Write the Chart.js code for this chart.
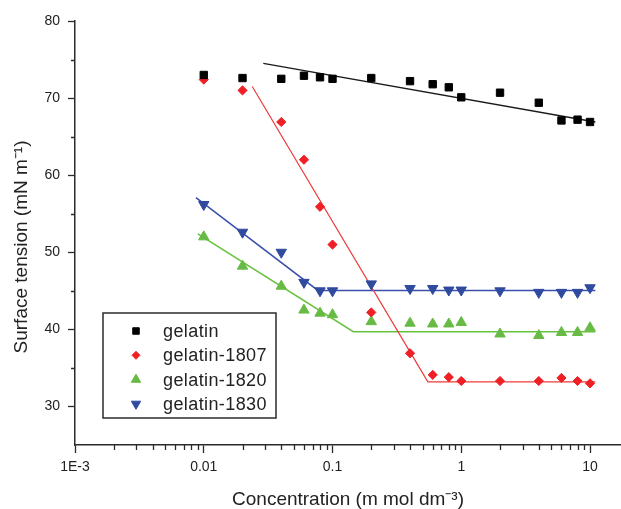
<!DOCTYPE html>
<html>
<head>
<meta charset="utf-8">
<script src="https://cdn.jsdelivr.net/npm/chart.js@4.4.1/dist/chart.umd.min.js"></script>
<style>
  html, body { margin: 0; padding: 0; background: #fff; }
  #wrap { width: 621px; height: 509px; }
</style>
</head>
<body>
<div id="wrap"><canvas id="chart" width="621" height="509"></canvas></div>
<script>
/* ---- data ---- */
const concentrations = [0.01, 0.02, 0.04, 0.06, 0.08, 0.1, 0.2, 0.4, 0.6, 0.8, 1, 2, 4, 6, 8, 10];
const gelatin     = [73.0, 72.6, 72.5, 72.9, 72.7, 72.5, 72.6, 72.2, 71.8, 71.4, 70.1, 70.7, 69.4, 67.1, 67.2, 66.9];
const gelatin1807 = [72.4, 71.0, 66.9, 62.0, 55.9, 51.0, 42.2, 36.9, 34.1, 33.8, 33.3, 33.3, 33.3, 33.7, 33.3, 33.0];
const gelatin1820 = [52.0, 48.2, 45.6, 42.5, 42.1, 41.9, 41.0, 40.8, 40.7, 40.7, 40.9, 39.4, 39.2, 39.6, 39.6, 40.2];
const gelatin1830 = [56.2, 52.6, 50.0, 46.1, 45.0, 45.0, 45.9, 45.3, 45.3, 45.1, 45.1, 45.0, 44.8, 44.8, 44.8, 45.4];

// fitted lines (x, y of the segment ends)
const fitGelatinX = [0.029, 11];        const fitGelatinY = [74.5, 66.9];
const fit1807X = [0.0238, 0.55, 11];    const fit1807Y = [71.5, 33.2, 33.2];
const fit1820X = [0.009, 0.145, 11];    const fit1820Y = [52.4, 39.7, 39.7];
const fit1830X = [0.0087, 0.077, 11];   const fit1830Y = [57.1, 45.05, 45.05];

const xTickValues = [0.001, 0.01, 0.1, 1, 10];
const xTickLabels = ['1E-3', '0.01', '0.1', '1', '10'];
const yTickValues = [30, 40, 50, 60, 70, 80];
const xMinorTicks = [2, 3, 4, 5, 6, 7, 8, 9];
const yMinorTicks = [35, 45, 55, 65, 75];

const FONT = 'Arial, "Liberation Sans", sans-serif';
const AXIS = '#2b2b2b';

const pts = (xs, ys) => xs.map((x, i) => ({ x, y: ys[i] }));

const series = [
  { label: 'gelatin', y: gelatin, style: 'rect', radius: 5.2, rot: 0, color: '#000000' },
  { label: 'gelatin-1807', y: gelatin1807, style: 'rectRot', radius: 4.6, rot: 0, color: '#ee1f25' },
  { label: 'gelatin-1820', y: gelatin1820, style: 'triangle', radius: 6, rot: 0, color: '#67bb45' },
  { label: 'gelatin-1830', y: gelatin1830, style: 'triangle', radius: 6, rot: 180, color: '#2f4a9e' },
];
const fits = [
  { x: fitGelatinX, y: fitGelatinY, color: '#1a1a1a', width: 1.3 },
  { x: fit1807X, y: fit1807Y, color: '#ee3a3a', width: 1.2 },
  { x: fit1820X, y: fit1820Y, color: '#66c23d', width: 1.5 },
  { x: fit1830X, y: fit1830Y, color: '#3a4fae', width: 1.5 },
];

const datasets = series.map((s) => ({
  label: s.label,
  data: pts(concentrations, s.y),
  showLine: false,
  pointStyle: s.style,
  pointRadius: s.radius,
  pointRotation: s.rot,
  backgroundColor: s.color,
  borderColor: s.color,
  borderWidth: 1,
})).concat(fits.map((f) => ({
  label: '',
  data: pts(f.x, f.y),
  showLine: true,
  pointRadius: 0,
  borderColor: f.color,
  borderWidth: f.width,
  fill: false,
})));

/* ---- minor ticks, y title and boxed legend ---- */
const extras = {
  id: 'extras',
  afterDraw(chart) {
    const ctx = chart.ctx;
    const xs = chart.scales.x, ys = chart.scales.y;
    const area = chart.chartArea;
    ctx.save();
    ctx.strokeStyle = AXIS;
    ctx.lineWidth = 1.3;
    ctx.beginPath();
    [0.001, 0.01, 0.1, 1].forEach((d) => xMinorTicks.forEach((k) => {
      const px = Math.round(xs.getPixelForValue(k * d)) + 0.5;
      ctx.moveTo(px, area.bottom);
      ctx.lineTo(px, area.bottom + 5);
    }));
    yMinorTicks.forEach((v) => {
      const py = Math.round(ys.getPixelForValue(v)) + 0.5;
      ctx.moveTo(area.left - 4, py);
      ctx.lineTo(area.left, py);
    });
    ctx.stroke();

    // y axis title
    ctx.fillStyle = '#222';
    ctx.font = '19px ' + FONT;
    ctx.textAlign = 'center';
    ctx.textBaseline = 'middle';
    ctx.translate(22, (area.top + area.bottom) / 2 + 14);
    ctx.rotate(-Math.PI / 2);
    ctx.fillText('Surface tension (mN m⁻¹)', 0, 0);
    ctx.restore();

    // legend box
    ctx.save();
    ctx.fillStyle = '#fff';
    ctx.fillRect(103, 313, 173, 105);
    ctx.strokeStyle = AXIS;
    ctx.lineWidth = 1.5;
    ctx.strokeRect(103, 313, 173, 105);
    ctx.font = '18px ' + FONT;
    ctx.letterSpacing = '0.4px';
    ctx.textAlign = 'left';
    ctx.textBaseline = 'middle';
    series.forEach((s, i) => {
      const y = 331 + i * 24.3;
      ctx.fillStyle = s.color;
      ctx.strokeStyle = s.color;
      ctx.lineWidth = 1;
      Chart.helpers.drawPoint(ctx, { pointStyle: s.style, radius: s.radius - 0.6, rotation: s.rot, borderWidth: 1 }, 136, y);
      ctx.fillStyle = '#222';
      ctx.fillText(s.label, 163, y + 1);
    });
    ctx.restore();
  },
};

new Chart(document.getElementById('chart'), {
  type: 'scatter',
  data: { datasets },
  options: {
    responsive: false,
    animation: false,
    devicePixelRatio: 1,
    layout: { autoPadding: false, padding: { top: 21, right: 0, bottom: 0, left: 0 } },
    plugins: { legend: { display: false }, tooltip: { enabled: false } },
    scales: {
      x: {
        type: 'logarithmic',
        min: 0.001,
        max: 17.4,
        afterBuildTicks: (scale) => { scale.ticks = xTickValues.map((v) => ({ value: v })); },
        afterFit: (scale) => { scale.height = 64; scale.paddingRight = 0; scale.paddingLeft = 0; },
        grid: { display: true, drawOnChartArea: false, drawTicks: true, tickLength: 8, tickColor: AXIS, tickWidth: 1.3 },
        border: { display: true, color: AXIS, width: 1.5 },
        ticks: {
          autoSkip: false, maxRotation: 0, padding: 6, color: '#222',
          font: { family: FONT, size: 14 },
          callback: (v) => xTickLabels[xTickValues.indexOf(v)] ?? '',
        },
        title: {
          display: true, text: 'Concentration (m mol dm⁻³)', color: '#222',
          font: { family: FONT, size: 19, lineHeight: 1.0 }, padding: { top: 0, bottom: 0 },
        },
      },
      y: {
        min: 25,
        max: 80,
        afterBuildTicks: (scale) => { scale.ticks = yTickValues.map((v) => ({ value: v })); },
        afterFit: (scale) => { scale.width = 75; },
        grid: { display: true, drawOnChartArea: false, drawTicks: true, tickLength: 7, tickColor: AXIS, tickWidth: 1.3 },
        border: { display: true, color: AXIS, width: 1.5 },
        ticks: { padding: 8, color: '#222', font: { family: FONT, size: 14 } },
        title: { display: false },
      },
    },
  },
  plugins: [extras],
});
</script>
</body>
</html>
